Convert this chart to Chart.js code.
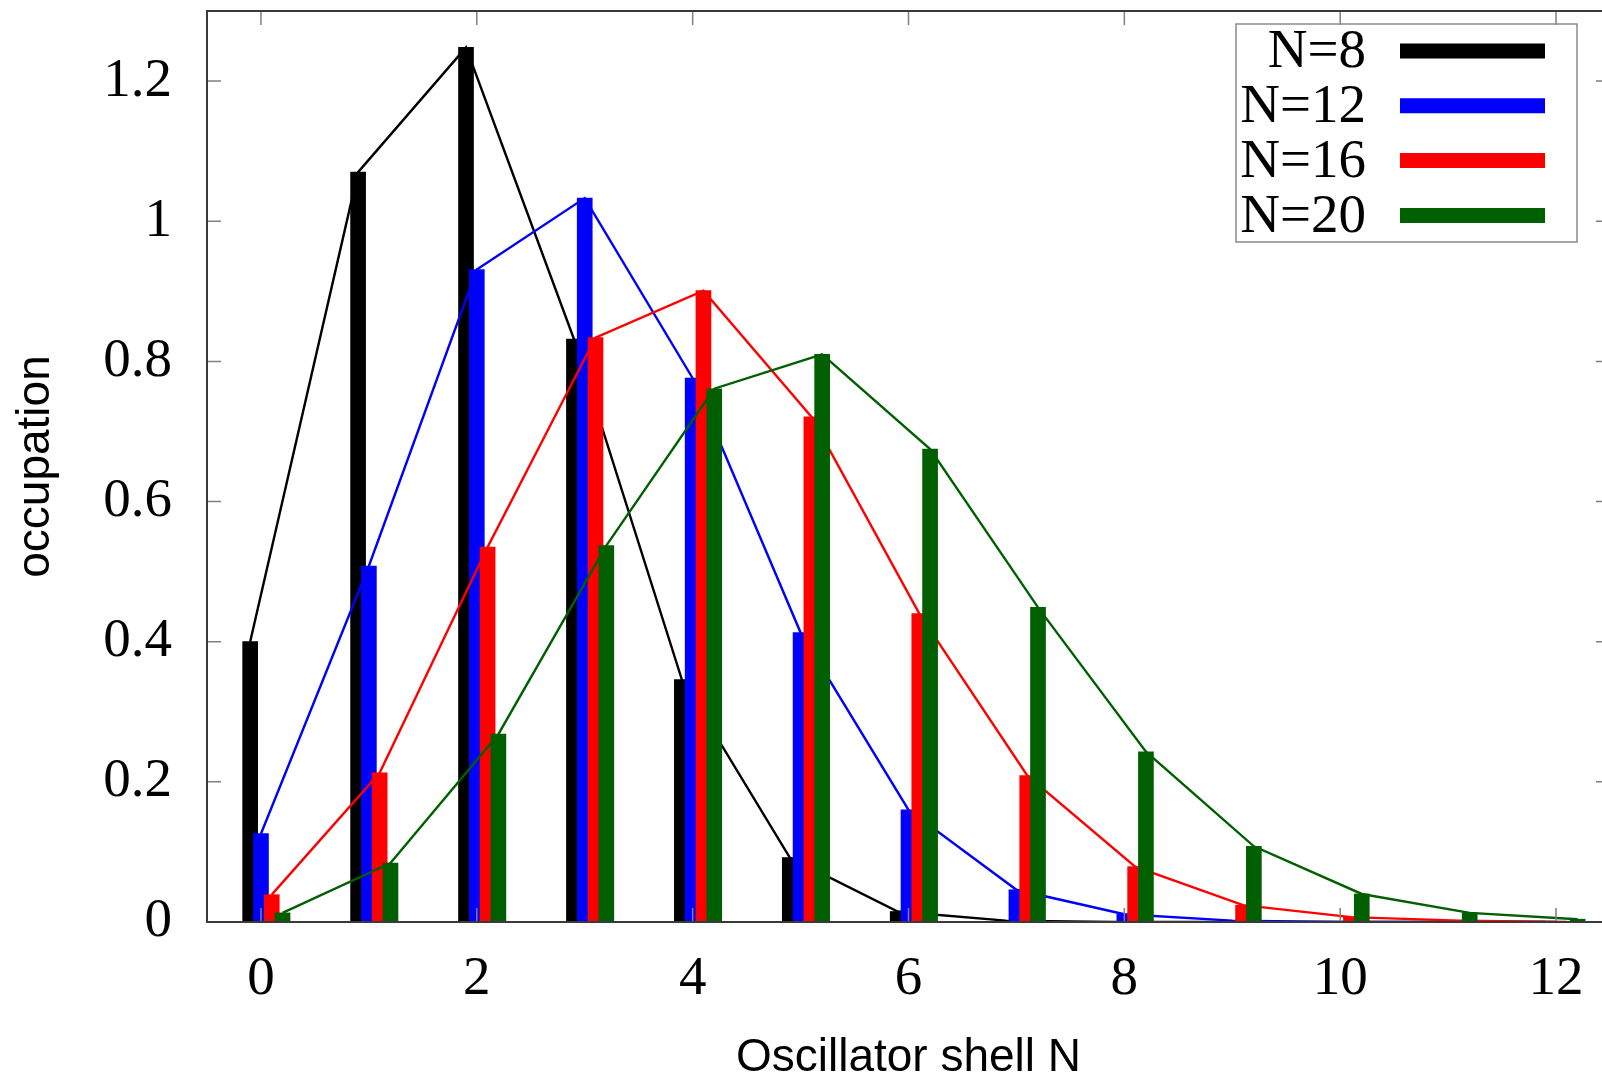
<!DOCTYPE html>
<html>
<head>
<meta charset="utf-8">
<script src="https://cdn.jsdelivr.net/npm/chart.js@4.4.1/dist/chart.umd.min.js"></script>
<style>
  html, body { margin: 0; padding: 0; background: #ffffff; overflow: hidden; }
  canvas { display: block; }
</style>
</head>
<body>
<canvas id="c" width="1612" height="1082"></canvas>
<script>
// ---- data ----
const shells = [0, 1, 2, 3, 4, 5, 6, 7, 8, 9, 10, 11, 12];
const seriesLabels = ['N=8', 'N=12', 'N=16', 'N=20'];
const occN8  = [0.400, 1.070, 1.248, 0.832, 0.346, 0.092, 0.015, 0.002, 0.000, 0.000, 0.000, 0.000, 0.000];
const occN12 = [0.126, 0.508, 0.931, 1.033, 0.776, 0.413, 0.160, 0.046, 0.011, 0.002, 0.000, 0.000, 0.000];
const occN16 = [0.039, 0.213, 0.535, 0.834, 0.901, 0.721, 0.440, 0.209, 0.079, 0.024, 0.007, 0.002, 0.000];
const occN20 = [0.013, 0.084, 0.268, 0.537, 0.761, 0.810, 0.675, 0.449, 0.243, 0.108, 0.040, 0.013, 0.004];
const xTickValues = [0, 2, 4, 6, 8, 10, 12];
const xTickLabels = ['0', '2', '4', '6', '8', '10', '12'];
const yTickValues = [0, 0.2, 0.4, 0.6, 0.8, 1.0, 1.2];
const yTickLabels = ['0', '0.2', '0.4', '0.6', '0.8', '1', '1.2'];

// ---- styling ----
const seriesValues = [occN8, occN12, occN16, occN20];
const colors = ['#000000', '#0000ff', '#ff0000', '#005f00'];
const shifts = [-0.1, 0, 0.1, 0.2];

const datasets = [];
seriesValues.forEach((vals, i) => {
  const pts = shells.map((s, k) => ({ x: s + shifts[i], y: vals[k] }));
  datasets.push({
    type: 'bar',
    label: seriesLabels[i],
    data: pts,
    backgroundColor: colors[i],
    borderWidth: 0,
    barThickness: 15,
    grouped: false,
    order: 7 - 2 * i
  });
  datasets.push({
    type: 'line',
    label: seriesLabels[i] + ' line',
    data: pts,
    borderColor: colors[i],
    borderWidth: 2.4,
    pointRadius: 0,
    tension: 0,
    fill: false,
    order: 6 - 2 * i
  });
});

const frame = {
  id: 'frame',
  afterDatasetsDraw(chart) {
    const { ctx, chartArea: a, scales } = chart;
    const L = 14;
    ctx.save();
    ctx.strokeStyle = '#808080';
    ctx.lineWidth = 1.5;
    ctx.beginPath();
    scales.x.ticks.forEach(t => {
      const px = scales.x.getPixelForValue(t.value);
      ctx.moveTo(px, a.bottom); ctx.lineTo(px, a.bottom - L);
      ctx.moveTo(px, a.top); ctx.lineTo(px, a.top + L);
    });
    scales.y.ticks.forEach(t => {
      const py = scales.y.getPixelForValue(t.value);
      ctx.moveTo(a.left, py); ctx.lineTo(a.left + L, py);
      ctx.moveTo(a.right, py); ctx.lineTo(a.right - L, py);
    });
    ctx.stroke();
    ctx.strokeStyle = '#3a3a3a';
    ctx.lineWidth = 2;
    ctx.strokeRect(a.left, a.top, a.right - a.left, a.bottom - a.top);
    ctx.restore();
  },
  afterDraw(chart) {
    const { ctx } = chart;
    const bx = 1236, by = 24, bw = 341, bh = 218;
    ctx.save();
    ctx.strokeStyle = '#8a8a8a';
    ctx.lineWidth = 1.5;
    ctx.strokeRect(bx, by, bw, bh);
    ctx.font = '55px "Liberation Serif", "Times New Roman", serif';
    ctx.textAlign = 'right';
    ctx.textBaseline = 'middle';
    const barDs = chart.data.datasets.filter(d => d.type === 'bar');
    barDs.forEach((d, i) => {
      const cy = 51 + 54.8 * i;
      ctx.fillStyle = '#000000';
      ctx.fillText(d.label, 1366, cy + 2);
      ctx.strokeStyle = d.backgroundColor;
      ctx.lineWidth = 15;
      ctx.beginPath();
      ctx.moveTo(1400, cy);
      ctx.lineTo(1545, cy);
      ctx.stroke();
    });
    ctx.restore();
  }
};

new Chart(document.getElementById('c'), {
  data: { datasets },
  options: {
    responsive: false,
    animation: false,
    devicePixelRatio: 1,
    layout: { padding: { left: 0, top: 11, right: 2, bottom: 0 } },
    plugins: { legend: { display: false }, tooltip: { enabled: false } },
    scales: {
      x: {
        type: 'linear',
        min: -0.5,
        max: 12.5,
        offset: false,
        afterBuildTicks: s => { s.ticks = xTickValues.map(v => ({ value: v })); },
        afterFit: s => { s.height = 160; s.paddingLeft = 0; s.paddingRight = 0; },
        grid: { display: false, drawTicks: false },
        border: { display: false },
        ticks: {
          padding: 25,
          color: '#000000',
          font: { family: '"Liberation Serif", "Times New Roman", serif', size: 55 },
          callback: (v, i) => xTickLabels[i],
          maxRotation: 0,
          autoSkip: false
        },
        title: {
          display: true,
          text: 'Oscillator shell N',
          color: '#000000',
          font: { family: '"Liberation Sans", Arial, sans-serif', size: 46, lineHeight: 1 },
          padding: { top: 0, bottom: 1 }
        }
      },
      y: {
        type: 'linear',
        min: 0,
        max: 1.3,
        afterBuildTicks: s => { s.ticks = yTickValues.map(v => ({ value: v })); },
        afterFit: s => { s.width = 207; s.paddingTop = 0; s.paddingBottom = 0; },
        grid: { display: false, drawTicks: false },
        border: { display: false },
        ticks: {
          padding: 35,
          color: '#000000',
          font: { family: '"Liberation Serif", "Times New Roman", serif', size: 55 },
          callback: (v, i) => yTickLabels[i],
          autoSkip: false
        },
        title: {
          display: true,
          text: 'occupation',
          color: '#000000',
          font: { family: '"Liberation Sans", Arial, sans-serif', size: 46, lineHeight: 1 },
          padding: { top: 13, bottom: 0 }
        }
      }
    }
  },
  plugins: [frame]
});
</script>
</body>
</html>
